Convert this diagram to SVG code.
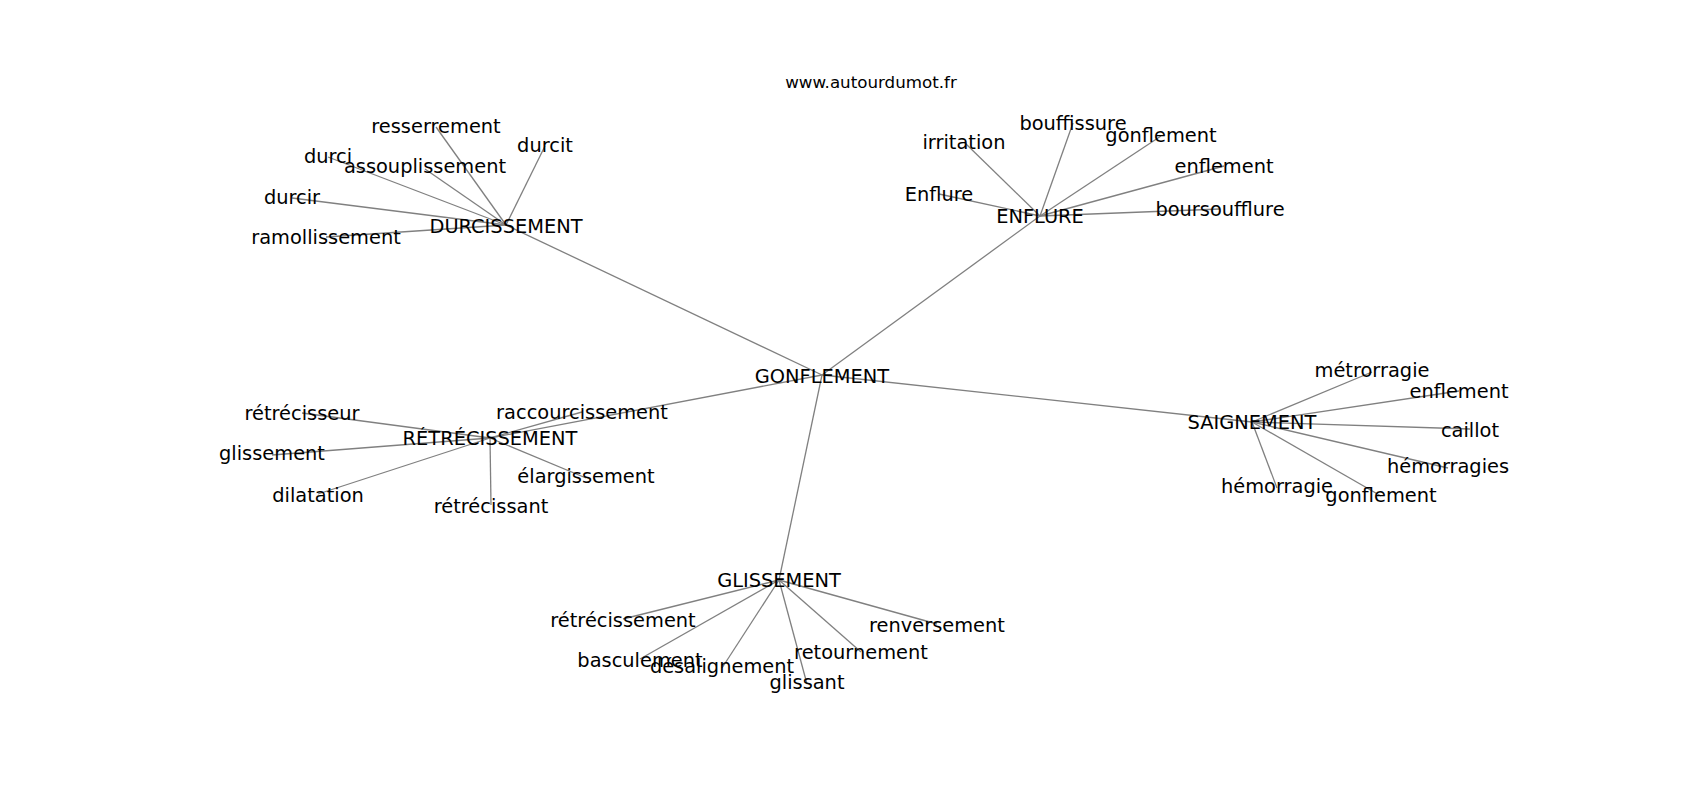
<svg xmlns="http://www.w3.org/2000/svg" width="1700" height="800" viewBox="0 0 1700 800">
<style>
.e{stroke:#808080;stroke-width:1.3;fill:none}
text{font-family:"DejaVu Sans","Liberation Sans",sans-serif;font-size:19.4px;fill:#000;text-anchor:middle}
.t{font-size:16.7px}
</style>
<rect width="1700" height="800" fill="#fff"/>
<text class="t" x="871" y="88">www.autourdumot.fr</text>
<g id="connectors">
<line class="e" x1="822" y1="375" x2="506" y2="225"/>
<line class="e" x1="822" y1="375" x2="1040" y2="216"/>
<line class="e" x1="822" y1="375" x2="1252" y2="422"/>
<line class="e" x1="822" y1="375" x2="490" y2="438"/>
<line class="e" x1="822" y1="375" x2="779" y2="580"/>
<line class="e" x1="506" y1="225" x2="436" y2="127"/>
<line class="e" x1="506" y1="225" x2="545" y2="146"/>
<line class="e" x1="506" y1="225" x2="328" y2="157"/>
<line class="e" x1="506" y1="225" x2="425" y2="169"/>
<line class="e" x1="506" y1="225" x2="292" y2="198"/>
<line class="e" x1="506" y1="225" x2="326" y2="237"/>
<line class="e" x1="1040" y1="216" x2="964" y2="142"/>
<line class="e" x1="1040" y1="216" x2="1073" y2="123"/>
<line class="e" x1="1040" y1="216" x2="1161" y2="136"/>
<line class="e" x1="1040" y1="216" x2="1224" y2="166"/>
<line class="e" x1="1040" y1="216" x2="939" y2="194"/>
<line class="e" x1="1040" y1="216" x2="1220" y2="209"/>
<line class="e" x1="1252" y1="422" x2="1372" y2="372"/>
<line class="e" x1="1252" y1="422" x2="1459" y2="391"/>
<line class="e" x1="1252" y1="422" x2="1470" y2="429"/>
<line class="e" x1="1252" y1="422" x2="1448" y2="468"/>
<line class="e" x1="1252" y1="422" x2="1277" y2="488"/>
<line class="e" x1="1252" y1="422" x2="1381" y2="496"/>
<line class="e" x1="490" y1="438" x2="302" y2="413"/>
<line class="e" x1="490" y1="438" x2="582" y2="412"/>
<line class="e" x1="490" y1="438" x2="272" y2="455"/>
<line class="e" x1="490" y1="438" x2="318" y2="494"/>
<line class="e" x1="490" y1="438" x2="491" y2="505"/>
<line class="e" x1="490" y1="438" x2="586" y2="478"/>
<line class="e" x1="779" y1="580" x2="623" y2="619"/>
<line class="e" x1="779" y1="580" x2="937" y2="624"/>
<line class="e" x1="779" y1="580" x2="640" y2="659"/>
<line class="e" x1="779" y1="580" x2="722" y2="668"/>
<line class="e" x1="779" y1="580" x2="861" y2="652"/>
<line class="e" x1="779" y1="580" x2="807" y2="684"/>
</g>
<g id="n-gonflement"><text x="822" y="382.7">GONFLEMENT</text></g>
<g id="n-durcissement"><text x="506" y="232.7">DURCISSEMENT</text></g>
<g id="n-enflure"><text x="1040" y="223.3">ENFLURE</text></g>
<g id="n-saignement"><text x="1252" y="429.3">SAIGNEMENT</text></g>
<g id="n-retrecissement"><text x="490" y="445">RÉTRÉCISSEMENT</text></g>
<g id="n-glissement"><text x="779" y="586.7">GLISSEMENT</text></g>
<g id="n-resserrement"><text x="436" y="133.3">resserrement</text></g>
<g id="n-durcit"><text x="545" y="152">durcit</text></g>
<g id="n-durci"><text x="328" y="163.3">durci</text></g>
<g id="n-assouplissement"><text x="425" y="173.3">assouplissement</text></g>
<g id="n-durcir"><text x="292" y="204.3">durcir</text></g>
<g id="n-ramollissement"><text x="326" y="244">ramollissement</text></g>
<g id="n-irritation"><text x="964" y="149.3">irritation</text></g>
<g id="n-bouffissure"><text x="1073" y="130">bouffissure</text></g>
<g id="n-gonflement-e"><text x="1161" y="141.7">gonflement</text></g>
<g id="n-enflement-e"><text x="1224" y="173.3">enflement</text></g>
<g id="n-Enflure"><text x="939" y="201">Enflure</text></g>
<g id="n-boursoufflure"><text x="1220" y="216">boursoufflure</text></g>
<g id="n-metrorragie"><text x="1372" y="377.3">métrorragie</text></g>
<g id="n-enflement-s"><text x="1459" y="398.3">enflement</text></g>
<g id="n-caillot"><text x="1470" y="436.7">caillot</text></g>
<g id="n-hemorragies"><text x="1448" y="473.3">hémorragies</text></g>
<g id="n-hemorragie"><text x="1277" y="493.3">hémorragie</text></g>
<g id="n-gonflement-s"><text x="1381" y="501.7">gonflement</text></g>
<g id="n-retrecisseur"><text x="302" y="420">rétrécisseur</text></g>
<g id="n-raccourcissement"><text x="582" y="419.3">raccourcissement</text></g>
<g id="n-glissement-r"><text x="272" y="460">glissement</text></g>
<g id="n-dilatation"><text x="318" y="501.7">dilatation</text></g>
<g id="n-retrecissant"><text x="491" y="512.7">rétrécissant</text></g>
<g id="n-elargissement"><text x="586" y="483.3">élargissement</text></g>
<g id="n-retrecissement-g"><text x="623" y="626.7">rétrécissement</text></g>
<g id="n-renversement"><text x="937" y="631.7">renversement</text></g>
<g id="n-basculement"><text x="640" y="666.7">basculement</text></g>
<g id="n-desalignement"><text x="722" y="673.3">désalignement</text></g>
<g id="n-retournement"><text x="861" y="659">retournement</text></g>
<g id="n-glissant"><text x="807" y="689.3">glissant</text></g>
</svg>
